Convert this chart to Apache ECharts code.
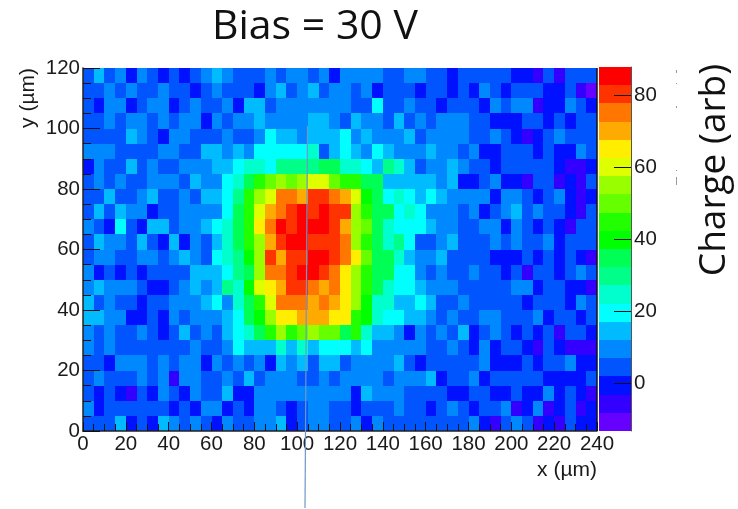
<!DOCTYPE html>
<html>
<head>
<meta charset="utf-8">
<title>Bias = 30 V</title>
<script src="https://cdn.jsdelivr.net/npm/echarts@6/dist/echarts.min.js"></script>
<style>
html, body { margin: 0; padding: 0; background: #fff; }
#main { width: 738px; height: 509px; }
</style>
</head>
<body>
<div id="main"></div>
<script>
// charge per 5um x 5um cell, rows from y=120 down to y=0
const chargeRows = [
	[5,15,5,10,0,10,5,0,5,0,5,10,15,10,5,5,5,10,5,10,10,5,10,0,10,10,10,10,5,5,10,10,5,5,0,5,5,5,5,5,0,0,-5,5,-5,5,5,5],
	[5,5,10,5,10,5,5,10,5,5,0,5,10,5,5,5,0,10,15,5,10,15,5,10,10,5,10,0,5,5,5,0,5,5,0,5,0,10,5,0,5,5,5,0,0,5,-5,-10],
	[5,0,10,10,0,5,10,10,0,5,10,5,5,10,0,15,15,5,10,10,10,10,10,10,10,5,5,20,5,5,10,5,5,0,5,5,5,0,10,5,10,10,-5,0,0,10,5,0],
	[5,5,10,5,10,10,5,10,5,10,10,0,10,5,10,10,15,10,10,10,10,15,15,10,5,15,10,10,5,15,5,10,5,10,10,10,5,5,0,0,0,5,5,0,5,0,5,5],
	[5,5,5,5,15,10,5,0,10,10,5,5,5,10,5,5,10,20,15,15,10,15,15,15,20,10,15,10,10,10,15,5,10,10,10,10,5,5,10,5,0,-5,0,5,10,5,5,5],
	[10,10,10,5,5,5,5,10,10,5,5,15,15,10,15,10,20,20,20,20,20,25,5,15,20,15,10,20,15,10,10,10,15,10,10,5,10,0,0,5,5,5,0,5,0,0,10,5],
	[0,10,5,5,15,5,10,5,5,10,10,10,15,15,20,25,25,20,30,30,30,30,35,35,25,25,20,15,30,25,15,5,10,10,15,10,5,5,0,5,5,5,5,5,0,-5,-5,0],
	[5,10,5,10,5,5,10,10,10,5,15,10,10,20,25,35,45,50,55,50,55,60,60,50,45,45,35,35,15,15,15,15,15,10,15,0,0,5,10,0,0,-5,5,5,-5,0,-5,5],
	[5,5,15,5,5,10,15,5,5,10,5,15,15,20,30,45,55,60,75,75,70,80,80,75,70,60,40,35,20,25,20,15,20,15,10,10,10,10,0,10,10,5,0,5,10,0,-5,0],
	[5,15,5,15,10,10,0,5,5,10,10,10,10,20,35,45,60,70,75,80,85,80,85,80,80,55,45,35,35,20,25,20,10,10,10,5,10,0,5,10,15,5,10,5,5,0,-5,5],
	[10,5,0,20,5,0,15,15,5,10,10,15,20,25,35,45,65,75,85,80,85,85,85,80,70,55,50,35,25,20,20,20,15,10,10,5,5,10,10,0,10,5,0,5,0,-5,5,5],
	[5,15,10,10,5,15,5,0,15,0,10,5,15,25,35,45,55,70,80,85,85,80,80,80,75,55,45,35,25,30,20,5,5,10,15,5,5,5,10,5,10,5,5,10,0,5,5,5],
	[5,10,10,5,5,10,10,5,10,15,10,5,20,25,30,40,55,80,70,80,80,85,85,80,75,65,50,35,35,25,15,10,10,15,5,5,5,5,0,0,0,5,0,5,0,5,0,-5],
	[10,0,5,0,5,0,5,5,5,5,15,15,15,20,30,35,55,75,75,80,85,85,80,75,65,55,45,35,35,20,20,10,5,10,5,5,10,5,5,0,5,-5,5,5,0,5,10,5],
	[10,15,10,10,10,5,0,0,5,10,15,10,15,30,25,40,60,65,70,80,80,75,70,75,65,55,45,35,25,20,20,15,10,10,10,5,5,5,5,5,10,10,0,5,5,0,0,-5],
	[15,5,10,5,5,0,5,5,10,10,10,15,20,10,25,35,45,60,75,75,75,70,75,70,65,55,40,25,25,15,15,20,15,5,5,10,5,5,5,5,5,0,5,5,5,0,10,5],
	[15,15,10,10,0,0,5,0,10,5,10,10,10,15,20,35,40,55,65,65,70,70,70,65,65,45,40,25,20,20,15,15,10,5,10,5,5,10,10,5,5,5,10,0,5,5,0,5],
	[10,5,10,5,5,10,5,0,5,15,5,10,5,15,20,25,35,45,55,45,50,55,50,50,35,45,25,15,15,10,0,10,5,10,5,15,0,5,10,5,0,5,0,5,-5,5,5,0],
	[10,5,10,5,5,5,5,5,5,5,10,5,5,10,20,15,15,15,25,15,25,15,20,20,20,15,20,10,10,10,10,10,5,5,10,5,0,10,0,5,5,0,-5,5,0,-5,-5,-5],
	[5,5,0,10,10,10,5,10,5,10,10,0,10,5,10,5,10,0,15,10,15,5,15,15,5,10,10,10,10,15,5,0,5,5,5,5,5,10,0,0,0,5,0,5,5,10,0,0],
	[5,10,5,5,5,10,5,10,-5,10,10,5,5,10,5,15,5,10,10,10,5,5,10,5,10,10,10,10,5,10,10,10,15,0,5,5,10,0,5,5,5,5,5,0,0,0,0,5],
	[5,0,5,0,-5,5,0,10,5,0,10,5,5,15,0,0,10,10,10,10,10,10,10,10,10,0,15,10,10,10,5,5,5,5,0,0,5,5,0,0,5,0,0,10,0,5,0,-5],
	[10,0,5,5,5,5,5,5,0,5,0,10,10,0,5,0,10,10,5,0,5,10,10,5,5,0,5,5,5,10,5,5,0,5,10,5,0,5,5,10,-5,0,10,-5,0,5,-5,0],
	[5,5,5,15,0,5,0,15,10,5,10,5,0,10,5,5,10,10,15,0,5,10,10,5,5,10,0,10,5,5,5,5,5,5,5,5,10,0,-5,5,10,5,-5,0,-5,5,0,0]
];
const levelCharges = [-10,-5,0,5,10,15,20,25,30,35,40,45,50,55,60,65,70,75,80,85];
const levelColors = ['#6600ff','#3300ff','#0011ff','#0055ff','#0088ff','#00bbff','#00ffff','#00ffcc','#00ff88','#00ff55',
	'#00ff00','#22ff00','#66ff00','#99ff00','#ddff00','#ffee00','#ffaa00','#ff7700','#ff3300','#ff0000'];
const colorbarTicks = [0,20,40,60,80];
const cellSize = 5;
const chargeMin = -13.2;
const chargeMax = 87.9;

let cells = [];
chargeRows.forEach(function (row, r) {
	row.forEach(function (charge, c) {
		cells.push([c * cellSize, (chargeRows.length - 1 - r) * cellSize, charge]);
	});
});
let levelStep = (chargeMax - chargeMin) / levelCharges.length;
let barCells = levelCharges.map(function (charge, i) {
	return [chargeMin + i * levelStep, chargeMin + (i + 1) * levelStep, charge];
});

function colorOf(charge) {
	return levelColors[levelCharges.indexOf(charge)];
}

function renderCell(params, api) {
	let p0 = api.coord([api.value(0), api.value(1) + cellSize]);
	let p1 = api.coord([api.value(0) + cellSize, api.value(1)]);
	let x = Math.round(p0[0]), y = Math.round(p0[1]);
	return {
		type: 'rect',
		shape: { x: x, y: y, width: Math.round(p1[0]) - x, height: Math.round(p1[1]) - y },
		style: { fill: colorOf(api.value(2)) }
	};
}

function renderLevel(params, api) {
	let p0 = api.coord([0, api.value(1)]);
	let p1 = api.coord([1, api.value(0)]);
	let x = Math.round(p0[0]), y = Math.round(p0[1]);
	return {
		type: 'rect',
		shape: { x: x, y: y, width: Math.round(p1[0]) - x, height: Math.round(p1[1]) - y },
		style: { fill: colorOf(api.value(2)) }
	};
}

const tickFont = { fontFamily: 'Liberation Sans', fontSize: 20.5, color: '#1a1a1a' };
const frame = { lineStyle: { color: '#222', width: 1.5 } };

// leftover specks next to the rotated label
function speck(y1, y2) {
	return { type: 'line', z: 100, shape: { x1: 676.5, y1: y1, x2: 676.5, y2: y2 }, style: { stroke: '#9a9a9a', lineWidth: 1 } };
}

let myChart = echarts.init(document.getElementById('main'));
let option = {
	animation: false,
	textStyle: { fontFamily: 'Liberation Sans' },
	title: {
		text: 'Bias = 30 V',
		left: 212,
		top: 7,
		padding: 0,
		textStyle: { fontFamily: 'Open Sans', fontSize: 41, fontWeight: 'normal', color: '#111' }
	},
	grid: [
		{ left: 83, top: 68, width: 514, height: 363 },
		{ left: 599, top: 67, width: 32, height: 364 }
	],
	xAxis: [
		{
			type: 'value', gridIndex: 0, min: 0, max: 240, interval: 20, z: 10,
			name: 'x (µm)', nameLocation: 'end', nameGap: 0,
			nameTextStyle: { fontFamily: 'Liberation Sans', fontSize: 21, color: '#1a1a1a', align: 'right', verticalAlign: 'top', padding: [29, 0, 0, 0] },
			axisLine: frame,
			axisTick: { inside: true, length: 9, lineStyle: { color: '#111' } },
			minorTick: { show: true, splitNumber: 4, length: 7, lineStyle: { color: '#111' } },
			splitLine: { show: false },
			axisLabel: Object.assign({ margin: 3, showMinLabel: true, showMaxLabel: true }, tickFont)
		},
		{
			type: 'value', gridIndex: 1, min: 0, max: 1,
			axisLine: { show: false }, axisTick: { show: false }, axisLabel: { show: false }, splitLine: { show: false }
		}
	],
	yAxis: [
		{
			type: 'value', gridIndex: 0, min: 0, max: 120, interval: 20, z: 10,
			name: 'y (µm)', nameLocation: 'end', nameRotate: 90, nameGap: 0,
			nameTextStyle: { fontFamily: 'Liberation Sans', fontSize: 21, color: '#1a1a1a', align: 'right', verticalAlign: 'bottom', padding: [0, 0, 44, 0] },
			axisLine: frame,
			axisTick: { inside: true, length: 17, lineStyle: { color: '#111' } },
			minorTick: { show: true, splitNumber: 4, length: 8, lineStyle: { color: '#111' } },
			splitLine: { show: false },
			axisLabel: Object.assign({ margin: 3, showMinLabel: true, showMaxLabel: true }, tickFont)
		},
		{
			type: 'value', gridIndex: 1, min: chargeMin, max: chargeMax, position: 'right', z: 10,
			axisLine: { show: true, onZero: false, lineStyle: { color: '#555', width: 1 } },
			axisTick: { inside: true, length: 17, customValues: colorbarTicks, lineStyle: { color: '#111' } },
			splitLine: { show: false },
			axisLabel: Object.assign({ margin: 3, customValues: colorbarTicks }, tickFont)
		}
	],
	series: [
		{
			type: 'custom', xAxisIndex: 0, yAxisIndex: 0, clip: true, z: 1,
			encode: { x: 0, y: 1 },
			data: cells,
			renderItem: renderCell
		},
		{
			type: 'custom', xAxisIndex: 1, yAxisIndex: 1, clip: true, z: 1,
			encode: { y: [0, 1] },
			data: barCells,
			renderItem: renderLevel
		}
	],
	graphic: [
		{ type: 'line', z: 100, shape: { x1: 597, y1: 68, x2: 597, y2: 431 }, style: { stroke: '#111', lineWidth: 1.5 } },
		{ type: 'line', z: 100, shape: { x1: 307.5, y1: 126, x2: 305, y2: 508 }, style: { stroke: '#6f97c8', lineWidth: 1.2 } },
		{ type: 'text', z: 100, x: 714, y: 170, rotation: Math.PI / 2, style: { text: 'Charge (arb)', fontFamily: 'Open Sans', fontSize: 37, fill: '#111', align: 'center', verticalAlign: 'middle' } },
		speck(70, 73), speck(83, 84), speck(106, 108), speck(170, 171), speck(177, 185)
	]
};
myChart.setOption(option);
</script>
</body>
</html>
